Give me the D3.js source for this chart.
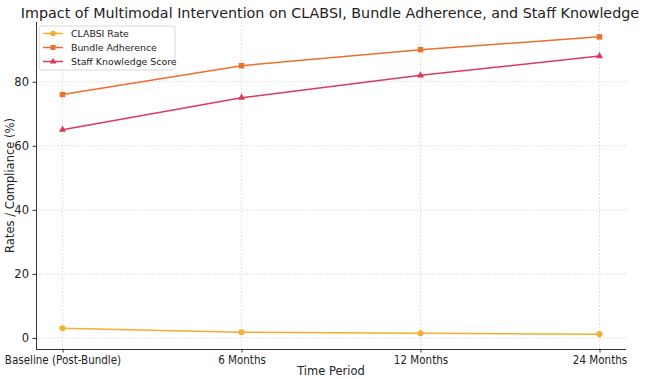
<!DOCTYPE html>
<html>
<head>
<meta charset="utf-8">
<script src="https://cdn.jsdelivr.net/npm/d3@7"></script>
<style>
  body { margin: 0; background: #fff; }
  svg { font-family: "DejaVu Sans", sans-serif; }
</style>
</head>
<body>
<svg id="chart" width="650" height="379"></svg>
<script>
// données
const periods = ["Baseline (Post-Bundle)", "6 Months", "12 Months", "24 Months"];
const clabsiRate = [3.0, 1.8, 1.5, 1.2];
const bundleAdherence = [76, 85, 90, 94];
const staffKnowledge = [65, 75, 82, 88];
const yTicks = [0, 20, 40, 60, 80];

const series = [
    { name: "CLABSI Rate", values: clabsiRate, color: "#f2b02c", marker: "circle" },
    { name: "Bundle Adherence", values: bundleAdherence, color: "#ec6f2c", marker: "square" },
    { name: "Staff Knowledge Score", values: staffKnowledge, color: "#dc3a5c", marker: "triangle" }
];

const svg = d3.select("#chart");
const margin = { top: 22, right: 24, bottom: 30, left: 36 };
const width = 650 - margin.left - margin.right;
const height = 349 - margin.top;

const g = svg.append("g").attr("transform", `translate(${margin.left},${margin.top})`);

const x = d3.scalePoint().domain(periods).range([26.5, width - 26.5]);
const y = d3.scaleLinear().domain([-3.44, 98.64]).range([height, 0]);

// grille
g.append("g").selectAll("line").data(yTicks).join("line")
    .attr("x1", 0).attr("x2", width).attr("y1", d => y(d)).attr("y2", d => y(d))
    .attr("stroke", "#d0d0d0").attr("stroke-width", 0.8).attr("stroke-dasharray", "1.5 2");
g.append("g").selectAll("line").data(periods).join("line")
    .attr("x1", d => x(d)).attr("x2", d => x(d)).attr("y1", 0).attr("y2", height)
    .attr("stroke", "#d0d0d0").attr("stroke-width", 0.8).attr("stroke-dasharray", "1.5 2");

// axes
const xAxis = g.append("g").attr("transform", `translate(0,${height})`)
    .call(d3.axisBottom(x).tickSize(3.5).tickPadding(3));
xAxis.select(".domain").attr("d", `M0,0.5H${width}`);
const yAxis = g.append("g").call(d3.axisLeft(y).tickValues(yTicks).tickSize(3.5).tickPadding(3.5));
yAxis.select(".domain").attr("d", `M0.5,0V${height}`);
[xAxis, yAxis].forEach(a => {
    a.selectAll("text").attr("font-size", 11.5).attr("fill", "#222").attr("font-family", "DejaVu Sans");
    a.selectAll("line").attr("stroke", "#333");
    a.select(".domain").attr("stroke", "#333").attr("stroke-width", 1);
});
xAxis.selectAll("text").attr("dy", "0.75em").attr("transform", "scale(0.9,1)");

// libellés
svg.append("text").attr("x", 330).attr("y", 18).attr("text-anchor", "middle")
    .attr("font-size", 14.3).attr("fill", "#222").text("Impact of Multimodal Intervention on CLABSI, Bundle Adherence, and Staff Knowledge");
svg.append("text").attr("x", margin.left + width / 2).attr("y", 375).attr("text-anchor", "middle")
    .attr("font-size", 11.5).attr("fill", "#222").text("Time Period");
svg.append("text").attr("transform", "rotate(-90)").attr("x", -(margin.top + height / 2)).attr("y", 14)
    .attr("text-anchor", "middle").attr("font-size", 11.5).attr("fill", "#222").text("Rates / Compliance (%)");

const line = d3.line().x((d, i) => x(periods[i])).y(d => y(d));

function drawMarker(sel, type, color, size) {
    if (type === "circle") sel.append("circle").attr("r", size * 0.55).attr("fill", color);
    else if (type === "square") sel.append("rect").attr("x", -size * 0.5).attr("y", -size * 0.5).attr("width", size).attr("height", size).attr("fill", color);
    else sel.append("path").attr("d", d3.symbol(d3.symbolTriangle, size * size * 0.75)()).attr("fill", color);
}

series.forEach(s => {
    g.append("path").datum(s.values).attr("fill", "none").attr("stroke", s.color)
        .attr("stroke-width", 1.5).attr("d", line);
    s.values.forEach((v, i) => {
        const m = g.append("g").attr("transform", `translate(${x(periods[i])},${y(v)})`);
        drawMarker(m, s.marker, s.color, 5.5);
    });
});

// légende
const leg = g.append("g").attr("transform", "translate(3,4)");
leg.append("rect").attr("width", 136).attr("height", 44).attr("rx", 2.5)
    .attr("fill", "#fff").attr("fill-opacity", 0.85).attr("stroke", "#d8d8d8");
series.forEach((s, i) => {
    const row = leg.append("g").attr("transform", `translate(4,${7.5 + i * 14})`);
    row.append("line").attr("x1", 0).attr("x2", 20).attr("stroke", s.color).attr("stroke-width", 1.5);
    const m = row.append("g").attr("transform", "translate(10,0)");
    drawMarker(m, s.marker, s.color, 5);
    row.append("text").attr("x", 28).attr("y", 0).attr("dy", "0.35em").attr("font-size", 9.4)
        .attr("fill", "#222").text(s.name);
});
</script>
</body>
</html>
